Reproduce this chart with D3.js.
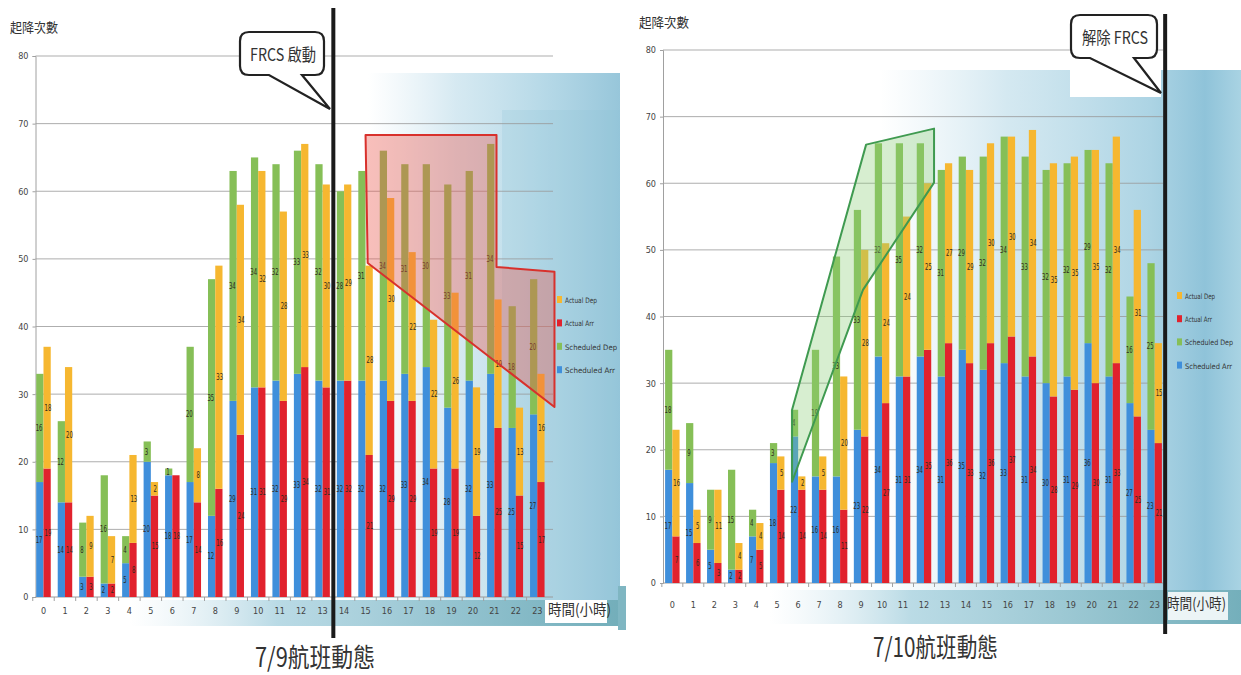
<!DOCTYPE html>
<html>
<head>
<meta charset="utf-8">
<script src="https://cdn.jsdelivr.net/npm/d3@7"></script>
<style>
  body { margin: 0; background: #fff; }
  svg { display: block; }
</style>
</head>
<body>
<svg id="chart" width="1241" height="675"></svg>
<script>
// ---- data ---------------------------------------------------------------
const hourLabels = ["0","1","2","3","4","5","6","7","8","9","10","11",
                    "12","13","14","15","16","17","18","19","20","21","22","23"];
const yTickValues = [0, 10, 20, 30, 40, 50, 60, 70, 80];
const legendNames = ["Actual Dep", "Actual Arr", "Scheduled Dep", "Scheduled Arr"];

// 7/9 flights per hour
const jul9ScheduledArr = [17,14,3,2,5,20,18,17,12,29,31,32,33,32,32,32,32,33,34,28,32,33,25,27];
const jul9ScheduledDep = [16,12,8,16,4,3,1,20,35,34,34,32,33,32,28,31,34,31,30,33,31,34,18,20];
const jul9ActualArr    = [19,14,3,2,8,15,18,14,16,24,31,29,34,31,32,21,29,29,19,19,12,25,15,17];
const jul9ActualDep    = [18,20,9,7,13,2,0,8,33,34,32,28,33,30,29,28,30,22,22,26,19,19,13,16];

// 7/10 flights per hour
const jul10ScheduledArr = [17,15,5,2,7,18,22,16,16,23,34,31,34,31,35,32,33,31,30,31,36,31,27,23];
const jul10ScheduledDep = [18,9,9,15,4,3,4,19,33,33,32,35,32,31,29,32,34,33,32,32,29,32,16,25];
const jul10ActualArr    = [7,6,3,2,5,14,14,14,11,22,27,31,35,36,33,36,37,34,28,29,30,33,25,21];
const jul10ActualDep    = [16,5,11,4,4,5,2,5,20,28,24,24,25,27,29,30,30,34,35,35,35,34,31,15];

// highlighted regions, as [hour position, flights]
const jul9DelayZone = [[15.0,68.3],[21.1,68.3],[21.1,48.8],[23.8,48.1],[23.8,28.1],[15.1,49.4]];
const jul10RecoveryZone = [[5.71,26.0],[9.24,65.8],[12.48,68.2],[12.48,60.1],[9.09,44.0],[5.71,15.2]];

// ---- styling --------------------------------------------------------------
const COLORS = {
  actDep: "#f6b730", actArr: "#e1222d", schDep: "#86bf57", schArr: "#3f8fdb"
};
const legendColors = [COLORS.actDep, COLORS.actArr, COLORS.schDep, COLORS.schArr];
const NARROW = "'Liberation Sans Narrow','DejaVu Sans Condensed','Liberation Sans',sans-serif";
const CJK = "'Noto Sans CJK TC','Noto Sans CJK SC',sans-serif";

const svg = d3.select("#chart");
const defs = svg.append("defs");

function hGrad(id, stops) {
  const g = defs.append("linearGradient").attr("id", id)
    .attr("x1", "0%").attr("x2", "100%").attr("y1", "0%").attr("y2", "0%");
  stops.forEach(s => g.append("stop").attr("offset", s[0])
    .attr("stop-color", s[1]).attr("stop-opacity", s[2]));
}
hGrad("hazeL", [["0%", "#cfe5ef", 0], ["35%", "#c4e0ec", 0.7], ["70%", "#a9d2e3", 0.85], ["100%", "#97c6da", 1]]);
hGrad("hazeR", [["0%", "#cfe5ef", 0], ["35%", "#c2dfeb", 0.7], ["75%", "#a3cfe1", 0.9], ["90%", "#8fc3d9", 1], ["100%", "#a9d3e3", 1]]);
hGrad("bandL", [["0%", "#cfe5ee", 0], ["30%", "#a8d1df", 0.8], ["100%", "#73aeba", 1]]);
hGrad("bandR", [["0%", "#cfe5ee", 0], ["30%", "#a9d2df", 0.8], ["100%", "#74afbb", 1]]);

// ---- slide backdrop ---------------------------------------------------------
const backdrop = svg.append("g");
backdrop.append("path").attr("d", "M368,73H620V625H368Z").attr("fill", "url(#hazeL)");
backdrop.append("path").attr("d", "M502,110H620V600H502Z").attr("fill", "#8fc3d8").attr("opacity", 0.22);
backdrop.append("path").attr("d", "M130,600H620V626H130Z").attr("fill", "url(#bandL)");
backdrop.append("path").attr("d", "M545,600H607V623H545Z").attr("fill", "#fff");
backdrop.append("path").attr("d", "M880,70H1070V97H1161V70H1241V600H880Z").attr("fill", "url(#hazeR)");
backdrop.append("path").attr("d", "M770,590H1241V624H770Z").attr("fill", "url(#bandR)");
backdrop.append("path").attr("d", "M1168,592H1228V620H1168Z").attr("fill", "#fff").attr("opacity", 0.85);
backdrop.append("path").attr("d", "M618,586H626V630H618Z").attr("fill", "#7fb6c2");

// ---- panels -----------------------------------------------------------------
const panels = [
  {
    title: "7/9航班動態", schArr: jul9ScheduledArr, schDep: jul9ScheduledDep,
    actArr: jul9ActualArr, actDep: jul9ActualDep, zone: jul9DelayZone,
    zoneFill: "rgba(236,86,76,0.38)", zoneStroke: "#d8312c",
    xRange: [35.5, 545.3], padIn: 0.325, padOut: 0.035, yRange: [597, 56], gridRight: 553,
    xTickY: 614, markerAfter: 13, markerTop: 8, markerBottom: 638,
    yTitle: { x: 10, y: 32, w: 48 },
    xTitle: { x: 548, y: 615, w: 63 },
    legend: { x: 557, y: 300, dy: 23.4, w: [32, 29, 52, 50] },
    title_: { x: 255, y: 667, w: 120 },
    callout: { text: "FRCS 啟動", box: [240, 32, 324, 75], tail: [269, 302, 330, 109], tx: 250, ty: 61, tw: 66 }
  },
  {
    title: "7/10航班動態", schArr: jul10ScheduledArr, schDep: jul10ScheduledDep,
    actArr: jul10ActualArr, actDep: jul10ActualDep, zone: jul10RecoveryZone,
    zoneFill: "rgba(140,205,120,0.35)", zoneStroke: "#3f9a50",
    xRange: [663, 1164], padIn: 0.31, padOut: 0.1, yRange: [583, 50], gridRight: 1163,
    xTickY: 608, markerAfter: 23, markerTop: 14, markerBottom: 634,
    yTitle: { x: 639, y: 27, w: 50 },
    xTitle: { x: 1167, y: 609, w: 59 },
    legend: { x: 1177, y: 296, dy: 23.2, w: [30, 27, 48, 47] },
    title_: { x: 873, y: 657, w: 125 },
    callout: { text: "解除 FRCS", box: [1071, 15, 1157, 58], tail: [1090, 1134, 1161, 93], tx: 1082, ty: 44, tw: 66 }
  }
];

function calloutPath(b, t, r) {
  const [x0, y0, x1, y1] = b;
  const [b1, b2, tx, ty] = t;
  return `M${x0 + r},${y0}H${x1 - r}Q${x1},${y0} ${x1},${y0 + r}V${y1 - r}Q${x1},${y1} ${x1 - r},${y1}` +
         `H${b2}L${tx},${ty}L${b1},${y1}H${x0 + r}Q${x0},${y1} ${x0},${y1 - r}V${y0 + r}Q${x0},${y0} ${x0 + r},${y0}Z`;
}

panels.forEach(p => {
  const g = svg.append("g");
  const x = d3.scaleBand().domain(hourLabels).range(p.xRange)
    .paddingInner(p.padIn).paddingOuter(p.padOut);
  const y = d3.scaleLinear().domain([0, 80]).range(p.yRange);
  const half = x.bandwidth() / 2;
  const step = x.step();
  // continuous hour position -> pixel (band centre of hour h)
  const hx = h => x(hourLabels[0]) + half + h * step;

  // gridlines
  g.append("g").selectAll("line").data(yTickValues.filter(v => v > 0)).join("line")
    .attr("x1", p.xRange[0]).attr("x2", p.gridRight)
    .attr("y1", d => y(d)).attr("y2", d => y(d))
    .attr("stroke", "#9a9a9a").attr("stroke-width", 1).attr("opacity", 0.8);

  // y axis
  const yAxis = g.append("g").attr("transform", `translate(${p.xRange[0]},0)`)
    .call(d3.axisLeft(y).tickValues(yTickValues).tickSize(3).tickPadding(4));
  yAxis.select(".domain").attr("stroke", "#a0a0a0");
  yAxis.selectAll(".tick line").attr("stroke", "#a0a0a0");
  yAxis.selectAll("text").attr("font-family", NARROW).attr("font-size", 9).attr("fill", "#444");

  // x axis
  const xAxisY = p.yRange[0];
  g.append("line").attr("x1", p.xRange[0]).attr("x2", p.gridRight)
    .attr("y1", xAxisY).attr("y2", xAxisY).attr("stroke", "#9a9a9a");
  g.append("g").selectAll("line").data(hourLabels).join("line")
    .attr("x1", d => x(d) - x.paddingInner() * step / 2).attr("x2", d => x(d) - x.paddingInner() * step / 2)
    .attr("y1", xAxisY).attr("y2", xAxisY + 4).attr("stroke", "#a0a0a0");
  g.append("g").selectAll("text").data(hourLabels).join("text")
    .attr("x", d => x(d) + half).attr("y", p.xTickY)
    .attr("text-anchor", "middle").attr("font-family", NARROW).attr("font-size", 9).attr("fill", "#444")
    .text(d => d);

  // stacked bars: scheduled (left) and actual (right) for every hour
  const segs = [];
  hourLabels.forEach((h, i) => {
    segs.push({ h, off: 0, lo: 0, hi: p.schArr[i], v: p.schArr[i], c: COLORS.schArr });
    segs.push({ h, off: 0, lo: p.schArr[i], hi: p.schArr[i] + p.schDep[i], v: p.schDep[i], c: COLORS.schDep });
    segs.push({ h, off: half, lo: 0, hi: p.actArr[i], v: p.actArr[i], c: COLORS.actArr });
    segs.push({ h, off: half, lo: p.actArr[i], hi: p.actArr[i] + p.actDep[i], v: p.actDep[i], c: COLORS.actDep });
  });
  g.append("g").selectAll("rect").data(segs.filter(s => s.v > 0)).join("rect")
    .attr("x", s => x(s.h) + s.off).attr("width", half)
    .attr("y", s => y(s.hi)).attr("height", s => y(s.lo) - y(s.hi))
    .attr("fill", s => s.c);
  // value labels, condensed so neighbouring bars' labels stay readable
  g.append("g").selectAll("text").data(segs.filter(s => s.v > 0)).join("text")
    .attr("x", s => x(s.h) + s.off + half / 2 + (s.off ? 0.8 : -0.8))
    .attr("y", s => y((s.lo + s.hi) / 2) + 3)
    .attr("text-anchor", "middle")
    .attr("font-family", NARROW).attr("font-size", 8)
    .attr("textLength", s => String(s.v).length * 3.4).attr("lengthAdjust", "spacingAndGlyphs")
    .attr("fill", "#2e2a1e").text(s => s.v);

  // highlighted zone
  g.append("path")
    .attr("d", d3.line().x(d => hx(d[0])).y(d => y(d[1]))(p.zone) + "Z")
    .attr("fill", p.zoneFill).attr("stroke", p.zoneStroke).attr("stroke-width", 2)
    .attr("stroke-linejoin", "round");

  // legend
  const lg = g.append("g");
  legendNames.forEach((name, i) => {
    const ly = p.legend.y + i * p.legend.dy;
    lg.append("rect").attr("x", p.legend.x).attr("y", ly - 4).attr("width", 5).attr("height", 7)
      .attr("fill", legendColors[i]);
    lg.append("text").attr("x", p.legend.x + 8).attr("y", ly + 3)
      .attr("font-family", NARROW).attr("font-size", 7.5).attr("fill", "#333")
      .attr("textLength", p.legend.w[i]).attr("lengthAdjust", "spacingAndGlyphs").text(name);
  });

  // axis titles
  g.append("text").attr("x", p.yTitle.x).attr("y", p.yTitle.y)
    .attr("font-family", CJK).attr("font-size", 13).attr("fill", "#333")
    .attr("textLength", p.yTitle.w).attr("lengthAdjust", "spacingAndGlyphs").text("起降次數");
  g.append("text").attr("x", p.xTitle.x).attr("y", p.xTitle.y)
    .attr("font-family", CJK).attr("font-size", 15).attr("fill", "#333")
    .attr("textLength", p.xTitle.w).attr("lengthAdjust", "spacingAndGlyphs").text("時間(小時)");

  // FRCS marker line between hours
  const mx = x(hourLabels[p.markerAfter]) + x.bandwidth() + x.paddingInner() * step / 2;
  g.append("line").attr("x1", mx).attr("x2", mx).attr("y1", p.markerTop).attr("y2", p.markerBottom)
    .attr("stroke", "#1a1a1a").attr("stroke-width", 4);

  // callout
  const c = p.callout;
  g.append("path").attr("d", calloutPath(c.box, c.tail, 9))
    .attr("fill", "#fff").attr("stroke", "#222").attr("stroke-width", 2.2);
  g.append("text").attr("x", c.tx).attr("y", c.ty)
    .attr("font-family", CJK).attr("font-size", 17).attr("fill", "#333")
    .attr("textLength", c.tw).attr("lengthAdjust", "spacingAndGlyphs").text(c.text);

  // panel title
  g.append("text").attr("x", p.title_.x).attr("y", p.title_.y)
    .attr("font-family", CJK).attr("font-size", 26.5).attr("fill", "#333")
    .attr("textLength", p.title_.w).attr("lengthAdjust", "spacingAndGlyphs").text(p.title);
});
</script>
</body>
</html>
